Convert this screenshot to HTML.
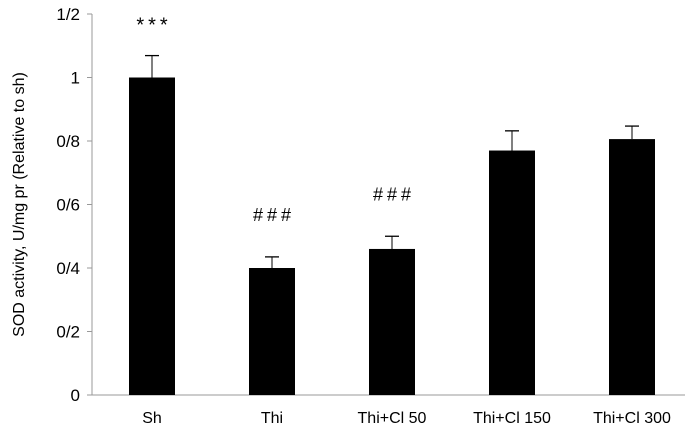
<!DOCTYPE html>
<html><head><meta charset="utf-8"><style>
body{margin:0;background:#fff;}
svg{display:block;font-family:"Liberation Sans",sans-serif;}
</style></head><body>
<svg id="chart" width="685" height="437" viewBox="0 0 685 437"></svg>
<script>
const categories=["Sh","Thi","Thi+Cl 50","Thi+Cl 150","Thi+Cl 300"];
const values=[1.0,0.40,0.46,0.77,0.806];
const errors=[0.069,0.035,0.04,0.062,0.041];
const annotations=["***","###","###","",""];
const yTicks=[0,0.2,0.4,0.6,0.8,1,1.2];
const yTickLabels=["0","0/2","0/4","0/6","0/8","1","1/2"];
const svg=document.getElementById('chart');
const NS='http://www.w3.org/2000/svg';
const x0=92,band=120,y0=395,scale=317.5,bw=46;
const yS=v=>y0-v*scale;
const xC=i=>x0+band*i+band/2;
function mk(t,a){const e=document.createElementNS(NS,t);for(const k in a)e.setAttribute(k,a[k]);svg.appendChild(e);return e;}
let e;
e=mk('line',{x1:x0,y1:yS(1.2),x2:x0,y2:y0,stroke:'#999','stroke-width':1});


e=mk('line',{x1:x0,y1:y0,x2:685,y2:y0,stroke:'#999','stroke-width':1});


yTicks.forEach((v,i)=>{
 e=mk('line',{x1:x0-5,y1:yS(v),x2:x0,y2:yS(v),stroke:'#999'});
 
 
 e=mk('text',{x:x0-12,y:yS(v)+6,'text-anchor':'end','font-size':17,fill:'#000'});
 e.textContent=yTickLabels[i];
 
 
});
categories.forEach((c,i)=>{
 const cx=xC(i),v=values[i],top=yS(v),et=yS(v+errors[i]);
 e=mk('line',{x1:cx,y1:et,x2:cx,y2:top,stroke:'#000','stroke-width':1});
 
 
 e=mk('line',{x1:cx-7,y1:et,x2:cx+7,y2:et,stroke:'#000','stroke-width':1.3});
 
 
 e=mk('rect',{x:cx-bw/2,y:top,width:bw,height:y0-top,fill:'#000'});
 
 
 e=mk('text',{x:cx,y:423,'text-anchor':'middle','font-size':16,fill:'#000'});
 e.textContent=c;
 
 
 if(annotations[i]){
  const star=annotations[i][0]==='*';
  e=mk('text',{x:cx+2,y:et-(star?24:36),'text-anchor':'middle','font-size':star?20:18,fill:'#000','letter-spacing':'4'});
  e.textContent=annotations[i];
  
  
 }
});
e=mk('text',{x:0,y:0,'text-anchor':'middle','font-size':16,fill:'#000',transform:'translate(24,'+yS(0.6)+') rotate(-90)'});
e.textContent='SOD activity, U/mg pr (Relative to sh)';


</script>
</body></html>
